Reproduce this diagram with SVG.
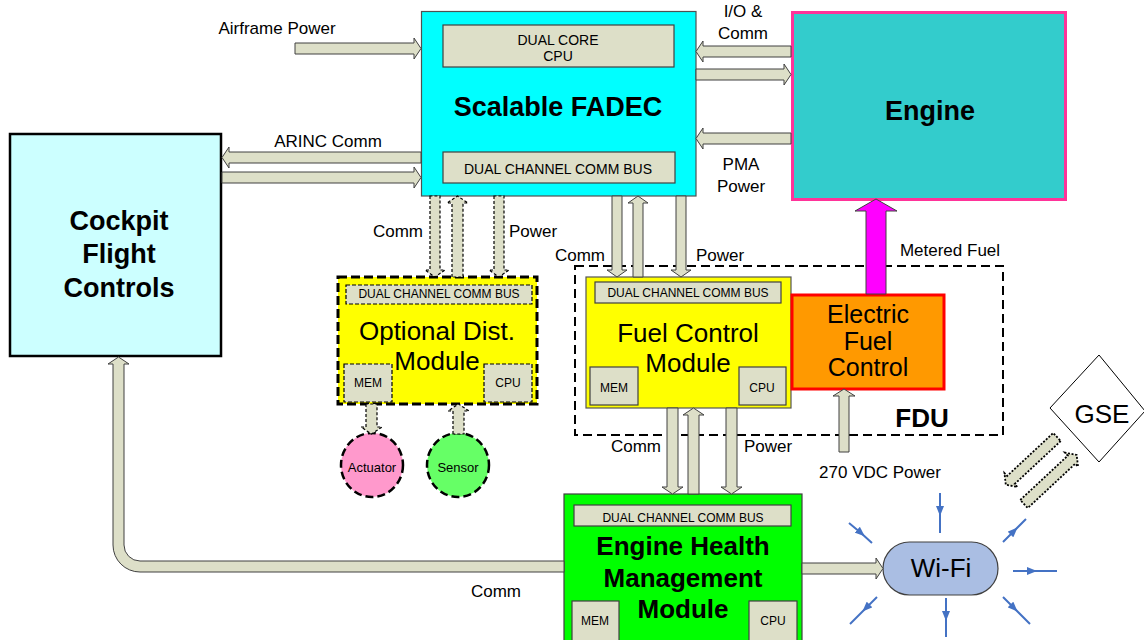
<svg xmlns="http://www.w3.org/2000/svg" width="1144" height="640" viewBox="0 0 1144 640">
<style>
text{font-family:"Liberation Sans",Arial,sans-serif;fill:#000}
.lbl{font-size:17px;text-anchor:middle}
.t26{font-size:26px;text-anchor:middle}
.t25{font-size:25px;text-anchor:middle}
.b27{font-size:27px;font-weight:bold;text-anchor:middle}
.b26{font-size:26px;font-weight:bold;text-anchor:middle}
.s14{font-size:14px;text-anchor:middle}
.s12{font-size:12px;text-anchor:middle}
.s13{font-size:13px;text-anchor:middle}
.sub{fill:#DDDFC8;stroke:#404040;stroke-width:1.2}
.subd{fill:#DDDFC8;stroke:#000;stroke-width:1.2;stroke-dasharray:4 2}
.arr{fill:#DDDFC8;stroke:#404040;stroke-width:1}
.arrd{fill:#DDDFC8;stroke:#000;stroke-width:1.2;stroke-dasharray:3 2}
.arrdot{fill:#DDDFC8;stroke:#000;stroke-width:1.8;stroke-dasharray:2 1.6}
.ray{fill:none;stroke:#4472C4;stroke-width:2;marker-mid:url(#bh)}
</style>
<defs>
<marker id="bh" markerUnits="userSpaceOnUse" markerWidth="10" markerHeight="8" refX="5" refY="4" orient="auto" viewBox="0 0 10 8">
<path d="M0,0 L10,4 L0,8 Z" fill="#4472C4"/>
</marker>
</defs>
<rect width="1144" height="640" fill="#fff"/>

<g id="fdu">
<rect x="575" y="266" width="428" height="169" fill="none" stroke="#000" stroke-width="2" stroke-dasharray="9 5"/>
<text class="b26" x="922" y="427">FDU</text>
</g>

<g id="fadec">
<rect x="421.5" y="11.5" width="274.5" height="184.5" fill="#00FFFF" stroke="#505050" stroke-width="1.2"/>
<rect class="sub" x="443" y="25" width="231" height="42"/>
<text class="s14" x="558" y="45">DUAL CORE</text>
<text class="s14" x="558" y="61">CPU</text>
<text class="b27" x="558" y="116">Scalable FADEC</text>
<rect class="sub" x="443" y="152" width="232" height="31"/>
<text class="s14" x="558" y="174">DUAL CHANNEL COMM BUS</text>
</g>

<g id="engine">
<rect x="792.5" y="12.5" width="273" height="187" fill="#33CCCC" stroke="#FF3399" stroke-width="3"/>
<text class="b27" x="930" y="120">Engine</text>
</g>

<g id="cockpit">
<rect x="10" y="134" width="211" height="222" fill="#CCFFFF" stroke="#000" stroke-width="2.5"/>
<text class="b27" x="119" y="230">Cockpit</text>
<text class="b27" x="119" y="263">Flight</text>
<text class="b27" x="119" y="297">Controls</text>
</g>

<g id="optional-module">
<rect x="338" y="277" width="199" height="127" fill="#FFFF00" stroke="#000" stroke-width="3" stroke-dasharray="9 4"/>
<rect class="subd" x="346" y="285" width="186" height="19"/>
<text class="s12" x="439" y="298">DUAL CHANNEL COMM BUS</text>
<text class="t26" x="437" y="340">Optional Dist.</text>
<text class="t26" x="437" y="370">Module</text>
<rect class="subd" x="344" y="364" width="48" height="38"/>
<text class="s12" x="368" y="387">MEM</text>
<rect class="subd" x="484" y="364" width="48" height="38"/>
<text class="s12" x="508" y="387">CPU</text>
</g>

<g id="actuator">
<ellipse cx="372" cy="465" rx="31" ry="32" fill="#FF99CC" stroke="#000" stroke-width="2.5" stroke-dasharray="8 4"/>
<text class="s13" x="372" y="472">Actuator</text>
</g>

<g id="sensor">
<ellipse cx="458" cy="465" rx="31" ry="32" fill="#66FF66" stroke="#000" stroke-width="2.5" stroke-dasharray="8 4"/>
<text class="s13" x="458" y="472">Sensor</text>
</g>

<g id="fuel-control-module">
<rect x="586" y="277" width="205" height="131" fill="#FFFF00" stroke="#555" stroke-width="1.2"/>
<rect class="sub" x="595" y="282" width="186" height="21"/>
<text class="s12" x="688" y="297">DUAL CHANNEL COMM BUS</text>
<text class="t26" x="688" y="342">Fuel Control</text>
<text class="t26" x="688" y="372">Module</text>
<rect class="sub" x="590" y="367" width="48" height="38"/>
<text class="s12" x="614" y="392">MEM</text>
<rect class="sub" x="739" y="367" width="47" height="38"/>
<text class="s12" x="762" y="392">CPU</text>
</g>

<g id="electric-fuel-control">
<rect x="792" y="295" width="152" height="94" fill="#FF9900" stroke="#FF0000" stroke-width="3"/>
<text class="t25" x="868" y="323">Electric</text>
<text class="t25" x="868" y="350">Fuel</text>
<text class="t25" x="868" y="376">Control</text>
</g>

<g id="ehm">
<rect x="564" y="494" width="238" height="160" fill="#00FF00" stroke="#404040" stroke-width="1.2"/>
<rect class="sub" x="574" y="505" width="217" height="21"/>
<text class="s12" x="683" y="522">DUAL CHANNEL COMM BUS</text>
<text class="b26" x="683" y="555">Engine Health</text>
<text class="b26" x="683" y="587">Management</text>
<text class="b26" x="683" y="618">Module</text>
<rect class="sub" x="572" y="601" width="47" height="50"/>
<text class="s12" x="595" y="625">MEM</text>
<rect class="sub" x="749" y="601" width="48" height="50"/>
<text class="s12" x="773" y="625">CPU</text>
</g>

<g id="wifi">
<rect x="883" y="542" width="115" height="53" rx="26.5" fill="#AABEE3" stroke="#404040" stroke-width="1.2"/>
<text class="t26" x="941" y="577">Wi-Fi</text>
</g>

<g id="gse">
<polygon points="1099,355 1145,411 1099,462 1050,408" fill="#fff" stroke="#000" stroke-width="1"/>
<text class="t26" x="1102" y="423">GSE</text>
</g>

<g id="connectors">
<path class="arr" d="M295,43 H414 V38 L421,48.5 L414,59 V54 H295 Z"/>
<path class="arr" d="M421,152 H229 V147 L222,157.5 L229,168 V163 H421 Z"/>
<path class="arr" d="M222,172 H414 V167 L421,177.5 L414,188 V183 H222 Z"/>
<path class="arr" d="M791,46 H703 V41 L696,51.5 L703,62 V57 H791 Z"/>
<path class="arr" d="M696,69 H784 V64 L791,74.5 L784,85 V80 H696 Z"/>
<path class="arr" d="M791,133 H703 V128 L696,138.5 L703,149 V144 H791 Z"/>

<path class="arrd" d="M430,196 V270 H425 L435,277 L445,270 H440 V196 Z"/>
<path class="arrd" d="M452,277 V203 H447 L457.5,196 L468,203 H463 V277 Z"/>
<path class="arrd" d="M494,196 V270 H489 L499,277 L509,270 H504 V196 Z"/>

<path class="arr" d="M612,196 V270 H607 L617,277 L627,270 H622 V196 Z"/>
<path class="arr" d="M633,277 V203 H628 L638,196 L648,203 H643 V277 Z"/>
<path class="arr" d="M676,196 V270 H671 L681,277 L691,270 H686 V196 Z"/>

<path class="arrd" d="M366,404 V427 H361 L371.5,434 L382,427 H377 V404 Z"/>
<path class="arrd" d="M453,434 V411 H448 L458.5,404 L469,411 H464 V434 Z"/>

<path class="arr" d="M667,408 V487 H662 L672.5,494 L683,487 H678 V408 Z"/>
<path class="arr" d="M688,494 V415 H683 L693.5,408 L704,415 H699 V494 Z"/>
<path class="arr" d="M726,408 V487 H721 L731.5,494 L742,487 H737 V408 Z"/>

<path class="arr" d="M839,452 V396 H833 L844,389 L855,396 H849 V452 Z"/>
<path d="M866,294 V211 H855 L876,199 L897,211 H886 V294 Z" fill="#FF00FF" stroke="#404040" stroke-width="1"/>

<path class="arr" d="M564,561 H140 A16,16 0 0 1 124,545 V364 H129 L118.5,357 L108,364 H113 V545 A27,27 0 0 0 140,572 H564 Z"/>
<path class="arr" d="M802,563 H876 V558 L883,568.5 L876,579 V574 H802 Z"/>

<path class="arrdot" transform="translate(1057,437) rotate(137)" d="M0,-5.5 H63 V-9.5 L70,0 L63,9.5 V5.5 H0 Z"/>
<path class="arrdot" transform="translate(1024,504) rotate(-43)" d="M0,-5.5 H65 V-9.5 L72,0 L65,9.5 V5.5 H0 Z"/>

<polyline class="ray" points="940,493 940,511 940,533"/>
<polyline class="ray" points="849,523 861,533 872,543"/>
<polyline class="ray" points="1003,542 1014,531 1026,519"/>
<polyline class="ray" points="1013,571 1032,571 1057,571"/>
<polyline class="ray" points="1003,597 1014,608 1030,624"/>
<polyline class="ray" points="946,598 946,616 946,637"/>
<polyline class="ray" points="877,597 866,608 850,624"/>
</g>

<g id="labels">
<text class="lbl" x="277" y="34">Airframe Power</text>
<text class="lbl" x="328" y="147">ARINC Comm</text>
<text class="lbl" x="743" y="17">I/O &amp;</text>
<text class="lbl" x="743" y="39">Comm</text>
<text class="lbl" x="741" y="170">PMA</text>
<text class="lbl" x="741" y="192">Power</text>
<text class="lbl" x="398" y="237">Comm</text>
<text class="lbl" x="533" y="237">Power</text>
<text class="lbl" x="580" y="261">Comm</text>
<text class="lbl" x="720" y="261">Power</text>
<text class="lbl" x="950" y="256">Metered Fuel</text>
<text class="lbl" x="636" y="452">Comm</text>
<text class="lbl" x="768" y="452">Power</text>
<text class="lbl" x="880" y="478">270 VDC Power</text>
<text class="lbl" x="496" y="597">Comm</text>
</g>
</svg>
